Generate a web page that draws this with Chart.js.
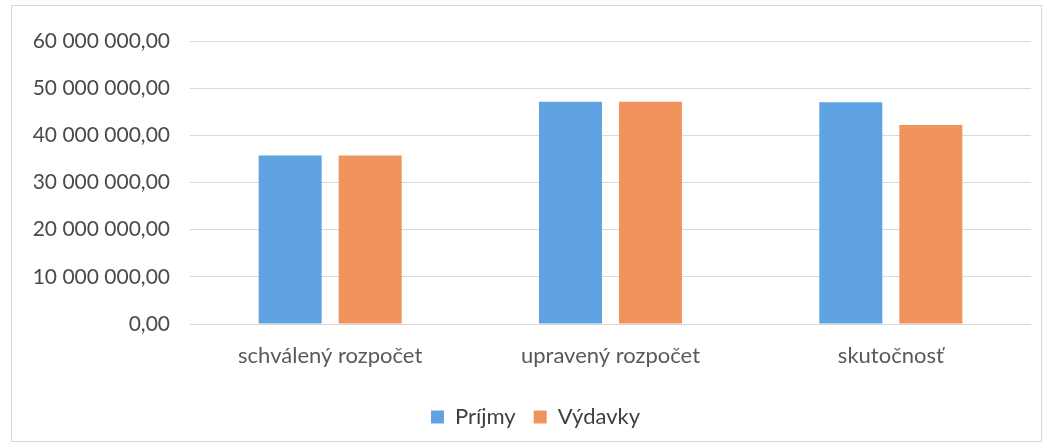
<!DOCTYPE html>
<html><head><meta charset="utf-8">
<script src="https://cdn.jsdelivr.net/npm/chart.js@4.4.0/dist/chart.umd.min.js"></script>
<style>
html,body{margin:0;padding:0;background:#fff;}
#wrap{position:absolute;left:0;top:0;width:1047px;height:448px;}
</style></head>
<body><div id="wrap"><canvas id="c" width="1047" height="448"></canvas></div>
<script>
const categories = ["schválený rozpočet", "upravený rozpočet", "skutočnosť"];
const prijmy = [35700000, 47100000, 47000000];
const vydavky = [35700000, 47100000, 42200000];
const seriesNames = ["Príjmy", "Výdavky"];
const yMin = 0, yMax = 60000000, yStep = 10000000;

function fmt(v){
  const s = Math.round(v).toString().replace(/\B(?=(\d{3})+(?!\d))/g, " ");
  return s + ",00";
}
const FONT = "Lato, 'Open Sans', sans-serif";
const borderPlugin = {
  id:'border',
  afterLayout(chart){
    const lg = chart.legend;
    if (lg) { lg.left += 10; lg.right += 10; }
  },
  beforeDraw(chart){
    const ctx = chart.ctx;
    ctx.save();
    ctx.fillStyle = '#ffffff';
    ctx.fillRect(0,0,chart.width,chart.height);
    ctx.strokeStyle = '#d6d6d6';
    ctx.lineWidth = 1;
    ctx.strokeRect(11.5, 5.5, 1030, 436);
    ctx.restore();
  }
};
new Chart(document.getElementById('c'), {
  type:'bar',
  data:{
    labels: categories,
    datasets:[
      {label: seriesNames[0], data: prijmy, backgroundColor:'#5fa3e2'},
      {label: seriesNames[1], data: vydavky, backgroundColor:'#f1935c'}
    ]
  },
  options:{
    responsive:false,
    animation:false,
    devicePixelRatio:1,
    categoryPercentage: 0.571,
    barPercentage: 0.7875,
    layout:{padding:{left:20, right:16, top:41, bottom:10}},
    plugins:{
      legend:{position:'bottom', labels:{boxWidth:13, boxHeight:13, padding:18, color:'#404040', font:{family:FONT, size:22}}},
      tooltip:{enabled:false}
    },
    scales:{
      x:{
        grid:{display:false, drawTicks:false},
        border:{display:false},
        ticks:{color:'#595959', font:{family:FONT, size:22}, padding:19},
        afterFit(a){ a.height = 64; }
      },
      y:{
        min:yMin, max:yMax,
        grid:{color:'#d9d9d9', drawTicks:false},
        border:{display:false},
        ticks:{stepSize:yStep, color:'#4a4a4a', font:{family:FONT, size:21}, padding:20, callback:(v)=>fmt(v)},
        afterFit(a){ a.width = 170; }
      }
    }
  },
  plugins:[borderPlugin]
});
</script></body></html>
